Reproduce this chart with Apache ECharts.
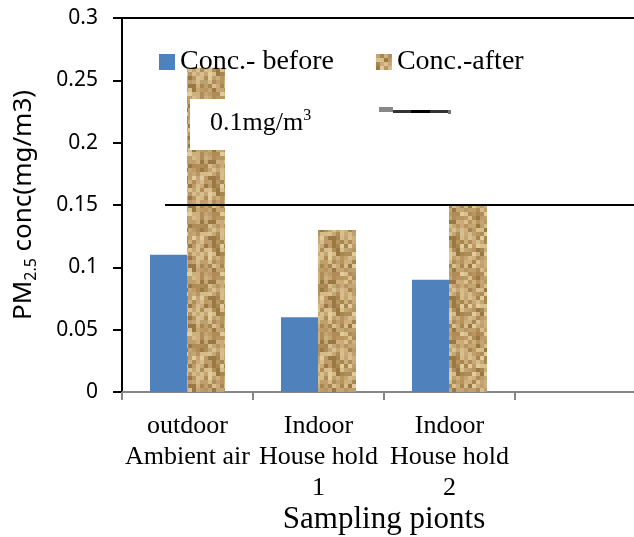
<!DOCTYPE html>
<html><head><meta charset="utf-8">
<script src="https://cdn.jsdelivr.net/npm/echarts@6/dist/echarts.min.js"></script>
<style>html,body{margin:0;padding:0;background:#fff}#c{width:634px;height:537px}</style>
</head><body><div id="c"></div>
<script>
var categories = ['outdoor\nAmbient air', 'Indoor\nHouse hold\n1', 'Indoor\nHouse hold\n2', ''];
var concBefore = [0.11, 0.06, 0.09, null];
var concAfter = [0.26, 0.13, 0.15, null];
var yTicks = {min: 0, max: 0.3, interval: 0.05};
var limitValue = 0.15;

// tan "sand" texture for the after series
function makeTexture() {
  var cv = document.createElement('canvas');
  var b = 4, n = 15;
  cv.width = b * n; cv.height = b * n;
  var ctx = cv.getContext('2d');
  var pal = ['#C4A574','#B8945F','#D6BC8A','#A88650','#E3CC9B','#C09A66','#CDB07E','#BFA06C','#D9C08F','#B08C58','#9A7844','#C9AA78'];
  for (var i = 0; i < n; i++) for (var j = 0; j < n; j++) {
    var h = ((i * 73856093) ^ (j * 19349663) ^ (i * j * 83492791)) >>> 0;
    h = (h % 997);
    ctx.fillStyle = pal[h % pal.length];
    ctx.fillRect(i * b, j * b, b, b);
  }
  return cv;
}
var tex = makeTexture();

var chart = echarts.init(document.getElementById('c'));
var serif = 'Liberation Serif';
chart.setOption({
  animation: false,
  grid: {left: 122, right: -12, top: 18, bottom: 145, containLabel: false, outerBoundsMode: 'none'},
  legend: {
    left: 159, top: 48, itemGap: 42, itemWidth: 16, itemHeight: 16, padding: 0,
    icon: 'rect',
    textStyle: {fontFamily: serif, fontSize: 28, color: '#000'},
    data: ['Conc.- before', 'Conc.-after']
  },
  xAxis: {
    type: 'category', data: categories,
    name: 'Sampling pionts', nameLocation: 'middle', nameGap: 112, nameMoveOverlap: false,
    nameTextStyle: {fontFamily: serif, fontSize: 31, color: '#000'},
    axisLine: {lineStyle: {color: '#868686', width: 2}},
    axisTick: {show: true, length: 8, lineStyle: {color: '#868686', width: 2}},
    axisLabel: {interval: 0, fontFamily: serif, fontSize: 26, lineHeight: 31, color: '#000', margin: 19}
  },
  yAxis: {
    type: 'value', min: yTicks.min, max: yTicks.max, interval: yTicks.interval,
    name: '{a|PM}{s|2.5}{a| conc(mg/m3)}', nameLocation: 'middle', nameGap: 83, nameMoveOverlap: false,
    nameTextStyle: {
      rich: {
        a: {fontFamily: 'Noto Sans', fontSize: 26, color: '#000', lineHeight: 30},
        s: {fontFamily: 'Noto Sans', fontSize: 16, color: '#000', lineHeight: 15, verticalAlign: 'bottom'}
      }
    },
    axisLine: {show: true, lineStyle: {color: '#000', width: 2}},
    axisTick: {show: true, length: 9, lineStyle: {color: '#000', width: 2}},
    axisLabel: {fontFamily: 'Noto Sans', fontSize: 21, color: '#000', margin: 24},
    splitLine: {show: false}
  },
  series: [
    {name: 'Conc.- before', type: 'bar', data: concBefore, barWidth: 37, barGap: '0%',
     itemStyle: {color: '#4F81BD'}},
    {name: 'Conc.-after', type: 'bar', data: concAfter, barWidth: 38, barGap: '0%',
     itemStyle: {color: {image: tex, repeat: 'repeat'}}, z: 2}
  ]
});

var yLine = chart.convertToPixel({yAxisIndex: 0}, limitValue);
var yTop = chart.convertToPixel({yAxisIndex: 0}, yTicks.max);
chart.setOption({
  graphic: [
    {type: 'line', z: 100, shape: {x1: 113, y1: yTop, x2: 634, y2: yTop}, style: {stroke: '#000', lineWidth: 2}},
    {type: 'line', z: 100, shape: {x1: 165, y1: yLine, x2: 634, y2: yLine}, style: {stroke: '#000', lineWidth: 2}},
    {type: 'rect', z: 100, shape: {x: 190, y: 99, width: 130, height: 51}, style: {fill: '#fff'}},
    {type: 'text', z: 101, left: 210, top: 108, style: {
      text: '{t|0.1mg/m}{p|3}',
      rich: {
        t: {fontFamily: serif, fontSize: 26, color: '#000', lineHeight: 30},
        p: {fontFamily: serif, fontSize: 16, color: '#000', lineHeight: 16, verticalAlign: 'top'}
      }
    }},
    {type: 'rect', z: 100, shape: {x: 379, y: 107, width: 14, height: 5}, style: {fill: '#888'}},
    {type: 'rect', z: 100, shape: {x: 393, y: 110, width: 56, height: 3}, style: {fill: '#333'}},
    {type: 'rect', z: 100, shape: {x: 411, y: 110, width: 19, height: 3}, style: {fill: '#000'}},
    {type: 'rect', z: 100, shape: {x: 448, y: 110, width: 3, height: 4}, style: {fill: '#777'}}
  ]
});
</script></body></html>
